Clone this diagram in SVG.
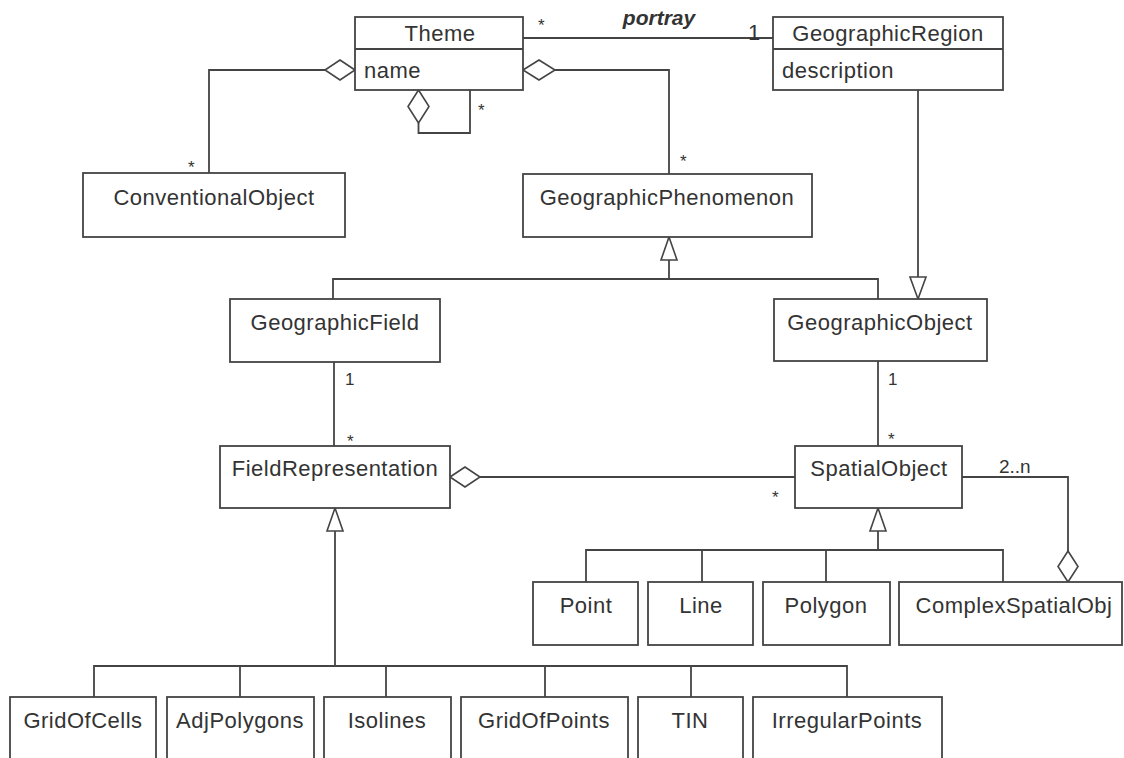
<svg xmlns="http://www.w3.org/2000/svg" width="1124" height="758" viewBox="0 0 1124 758">
<style>
.box{fill:#fff;stroke:#444;stroke-width:1.8}
.ln{fill:none;stroke:#444;stroke-width:1.8}
.hd{fill:#fff;stroke:#444;stroke-width:1.6}
.t{font-family:"Liberation Sans",Arial,sans-serif;font-size:22px;letter-spacing:0.5px;fill:#333}
.c{text-anchor:middle}
.m{font-family:"Liberation Sans",Arial,sans-serif;font-size:17px;fill:#333}
.pt{font-family:"Liberation Sans",Arial,sans-serif;font-size:21px;font-weight:bold;font-style:italic;fill:#333}
</style>
<rect width="1124" height="758" fill="#fff"/>
<g id="connectors">
  <line class="ln" x1="523" y1="38" x2="773" y2="38"/>
  <polyline class="ln" points="325,70 209,70 209,173"/>
  <polygon class="hd" points="355,70 340,60 325,70 340,80"/>
  <polyline class="ln" points="418.5,123 418.5,133 470,133 470,90"/>
  <polygon class="hd" points="418.5,90 429,106.5 418.5,123 408,106.5"/>
  <polyline class="ln" points="555,70 669,70 669,174"/>
  <polygon class="hd" points="523,70 539,60 555,70 539,80"/>
  <line class="ln" x1="669" y1="260" x2="669" y2="279"/>
  <polyline class="ln" points="333,299 333,279 878,279 878,299"/>
  <polygon class="hd" points="669,237 677,260 661,260"/>
  <line class="ln" x1="918" y1="90" x2="918" y2="277"/>
  <polygon class="hd" points="918,299 926,277 910,277"/>
  <line class="ln" x1="334" y1="362" x2="334" y2="446"/>
  <line class="ln" x1="878" y1="361" x2="878" y2="446"/>
  <line class="ln" x1="480" y1="477" x2="795" y2="477"/>
  <polygon class="hd" points="450,477 465,467 480,477 465,487"/>
  <polyline class="ln" points="962,477 1068,477 1068,551"/>
  <polygon class="hd" points="1068,551 1078,566.5 1068,582 1058,566.5"/>
  <line class="ln" x1="878" y1="531" x2="878" y2="550"/>
  <polyline class="ln" points="586,582 586,550 1003,550 1003,582"/>
  <line class="ln" x1="702" y1="550" x2="702" y2="582"/>
  <line class="ln" x1="826" y1="550" x2="826" y2="582"/>
  <polygon class="hd" points="878,508 886,531 870,531"/>
  <line class="ln" x1="335" y1="531" x2="335" y2="666"/>
  <polyline class="ln" points="94,697 94,666 847,666 847,697"/>
  <line class="ln" x1="240" y1="666" x2="240" y2="697"/>
  <line class="ln" x1="386" y1="666" x2="386" y2="697"/>
  <line class="ln" x1="545" y1="666" x2="545" y2="697"/>
  <line class="ln" x1="691" y1="666" x2="691" y2="697"/>
  <polygon class="hd" points="335,508 343,531 327,531"/>
  <text class="m" x="538" y="31">*</text>
  <text class="pt c" x="659" y="25">portray</text>
  <text class="t" x="748" y="40">1</text>
  <text class="m" x="188" y="173">*</text>
  <text class="m" x="478" y="116">*</text>
  <text class="m" x="680" y="167">*</text>
  <text class="m" x="345" y="385">1</text>
  <text class="m" x="347" y="447">*</text>
  <text class="m" x="888" y="385">1</text>
  <text class="m" x="888" y="445">*</text>
  <text class="m" x="772" y="503">*</text>
  <text class="m" x="999" y="473" style="font-size:19px">2..n</text>
</g>
<g id="Theme">
  <rect class="box" x="355" y="17" width="168" height="73"/>
  <line class="ln" x1="355" y1="49" x2="523" y2="49"/>
  <text class="t c" x="440" y="41">Theme</text>
  <text class="t" x="364" y="78">name</text>
</g>
<g id="GeographicRegion">
  <rect class="box" x="773" y="17" width="230" height="73"/>
  <line class="ln" x1="773" y1="49" x2="1003" y2="49"/>
  <text class="t c" x="888" y="41">GeographicRegion</text>
  <text class="t" x="782" y="78">description</text>
</g>
<g id="ConventionalObject">
  <rect class="box" x="83" y="173" width="262" height="64"/>
  <text class="t c" x="214" y="205">ConventionalObject</text>
</g>
<g id="GeographicPhenomenon">
  <rect class="box" x="523" y="174" width="289" height="63"/>
  <text class="t c" x="667" y="205">GeographicPhenomenon</text>
</g>
<g id="GeographicField">
  <rect class="box" x="230" y="299" width="210" height="63"/>
  <text class="t c" x="335" y="330">GeographicField</text>
</g>
<g id="GeographicObject">
  <rect class="box" x="774" y="299" width="213" height="62"/>
  <text class="t c" x="880" y="330">GeographicObject</text>
</g>
<g id="FieldRepresentation">
  <rect class="box" x="220" y="446" width="230" height="62"/>
  <text class="t c" x="335" y="476">FieldRepresentation</text>
</g>
<g id="SpatialObject">
  <rect class="box" x="795" y="446" width="167" height="62"/>
  <text class="t c" x="879" y="476">SpatialObject</text>
</g>
<g id="Point">
  <rect class="box" x="533" y="582" width="105" height="63"/>
  <text class="t c" x="586" y="613">Point</text>
</g>
<g id="Line">
  <rect class="box" x="648" y="582" width="105" height="63"/>
  <text class="t c" x="701" y="613">Line</text>
</g>
<g id="Polygon">
  <rect class="box" x="763" y="582" width="127" height="63"/>
  <text class="t c" x="826" y="613">Polygon</text>
</g>
<g id="ComplexSpatialObj">
  <rect class="box" x="899" y="582" width="223" height="63"/>
  <text class="t c" x="1014" y="613">ComplexSpatialObj</text>
</g>
<g id="GridOfCells">
  <rect class="box" x="10" y="697" width="146" height="80"/>
  <text class="t c" x="83" y="728">GridOfCells</text>
</g>
<g id="AdjPolygons">
  <rect class="box" x="167" y="697" width="147" height="80"/>
  <text class="t c" x="240" y="728">AdjPolygons</text>
</g>
<g id="Isolines">
  <rect class="box" x="324" y="697" width="127" height="80"/>
  <text class="t c" x="387" y="728">Isolines</text>
</g>
<g id="GridOfPoints">
  <rect class="box" x="461" y="697" width="167" height="80"/>
  <text class="t c" x="544" y="728">GridOfPoints</text>
</g>
<g id="TIN">
  <rect class="box" x="638" y="697" width="105" height="80"/>
  <text class="t c" x="690" y="728">TIN</text>
</g>
<g id="IrregularPoints">
  <rect class="box" x="753" y="697" width="189" height="80"/>
  <text class="t c" x="847" y="728">IrregularPoints</text>
</g>
</svg>
